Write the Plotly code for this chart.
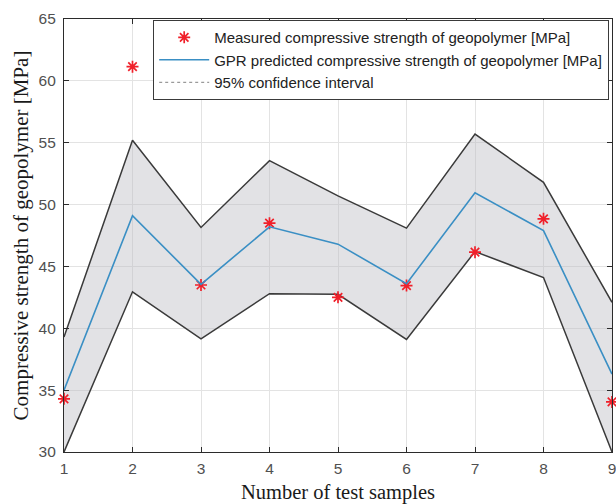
import plotly.graph_objects as go

samples = [1, 2, 3, 4, 5, 6, 7, 8, 9]
measured = [34.3, 61.15, 43.5, 48.5, 42.5, 43.45, 46.15, 48.85, 34.05]
predicted = [35.0, 49.1, 43.55, 48.2, 46.8, 43.6, 50.95, 47.9, 36.3]
ci_upper = [39.3, 55.2, 48.15, 53.55, 50.7, 48.1, 55.7, 51.8, 42.1]
ci_lower = [30.0, 42.95, 39.15, 42.8, 42.75, 39.1, 46.2, 44.1, 30.0]
y_ticks = [30, 35, 40, 45, 50, 55, 60, 65]

legend_names = [
    "Measured compressive strength of geopolymer [MPa]",
    "GPR predicted compressive strength of geopolymer [MPa]",
    "95% confidence interval",
]

band_edge = "#3a3a3a"
fig = go.Figure()

fig.add_trace(go.Scatter(
    x=samples, y=ci_lower, mode="lines",
    line=dict(color=band_edge, width=1.5), showlegend=False, hoverinfo="skip"))
fig.add_trace(go.Scatter(
    x=samples, y=ci_upper, mode="lines", fill="tonexty",
    fillcolor="rgba(185,185,192,0.42)",
    line=dict(color=band_edge, width=1.5), showlegend=False, hoverinfo="skip"))

fig.add_trace(go.Scatter(
    x=samples, y=measured, mode="markers", name=legend_names[0],
    marker=dict(symbol="asterisk-open", size=10, color="#f0202a",
                line=dict(color="#f0202a", width=1.7)), cliponaxis=False))
fig.add_trace(go.Scatter(
    x=samples, y=predicted, mode="lines", name=legend_names[1],
    line=dict(color="#3a8fc4", width=1.6)))
fig.add_trace(go.Scatter(
    x=[None], y=[None], mode="lines", name=legend_names[2],
    line=dict(color="#9a9a9a", width=1.2, dash="dot")))

axis_common = dict(
    showline=True, linecolor="#2b2b2b", linewidth=1.2, mirror="ticks",
    ticks="inside", ticklen=5, tickcolor="#2b2b2b",
    showgrid=True, gridcolor="#e3e3e3", gridwidth=1, zeroline=False,
    automargin=False, ticklabeloverflow="allow",
    tickfont=dict(family="Liberation Sans, Arial", size=15.5, color="#505050"),
)

fig.update_layout(
    width=616, height=504,
    margin=dict(l=64, r=4, t=19, b=52),
    paper_bgcolor="white", plot_bgcolor="white",
    xaxis=dict(range=[1, 9], tickmode="array", tickvals=samples,
               ticklabelstandoff=2,
               title=dict(text="Number of test samples", standoff=12,
                          font=dict(family="Liberation Serif, Times New Roman", size=20.5, color="#1a1a1a")),
               **axis_common),
    yaxis=dict(range=[30, 65], tickmode="array", tickvals=y_ticks,
               ticklabelstandoff=4,
               title=dict(text="Compressive strength of geopolymer [MPa]", standoff=4,
                          font=dict(family="Liberation Serif, Times New Roman", size=21, color="#1a1a1a")),
               **axis_common),
    legend=dict(x=0.1624, y=0.998, xanchor="left", yanchor="top",
                bgcolor="white", bordercolor="#3a3a3a", borderwidth=1.2,
                font=dict(family="Liberation Sans, Arial", size=15, color="#222222"),
                itemwidth=50, tracegroupgap=0, traceorder="normal"),
    showlegend=True,
)

fig.write_html(
    "out.html",
    config={"displayModeBar": False},
    post_script="document.body.style.margin='0';document.body.style.overflow='hidden';",
)
